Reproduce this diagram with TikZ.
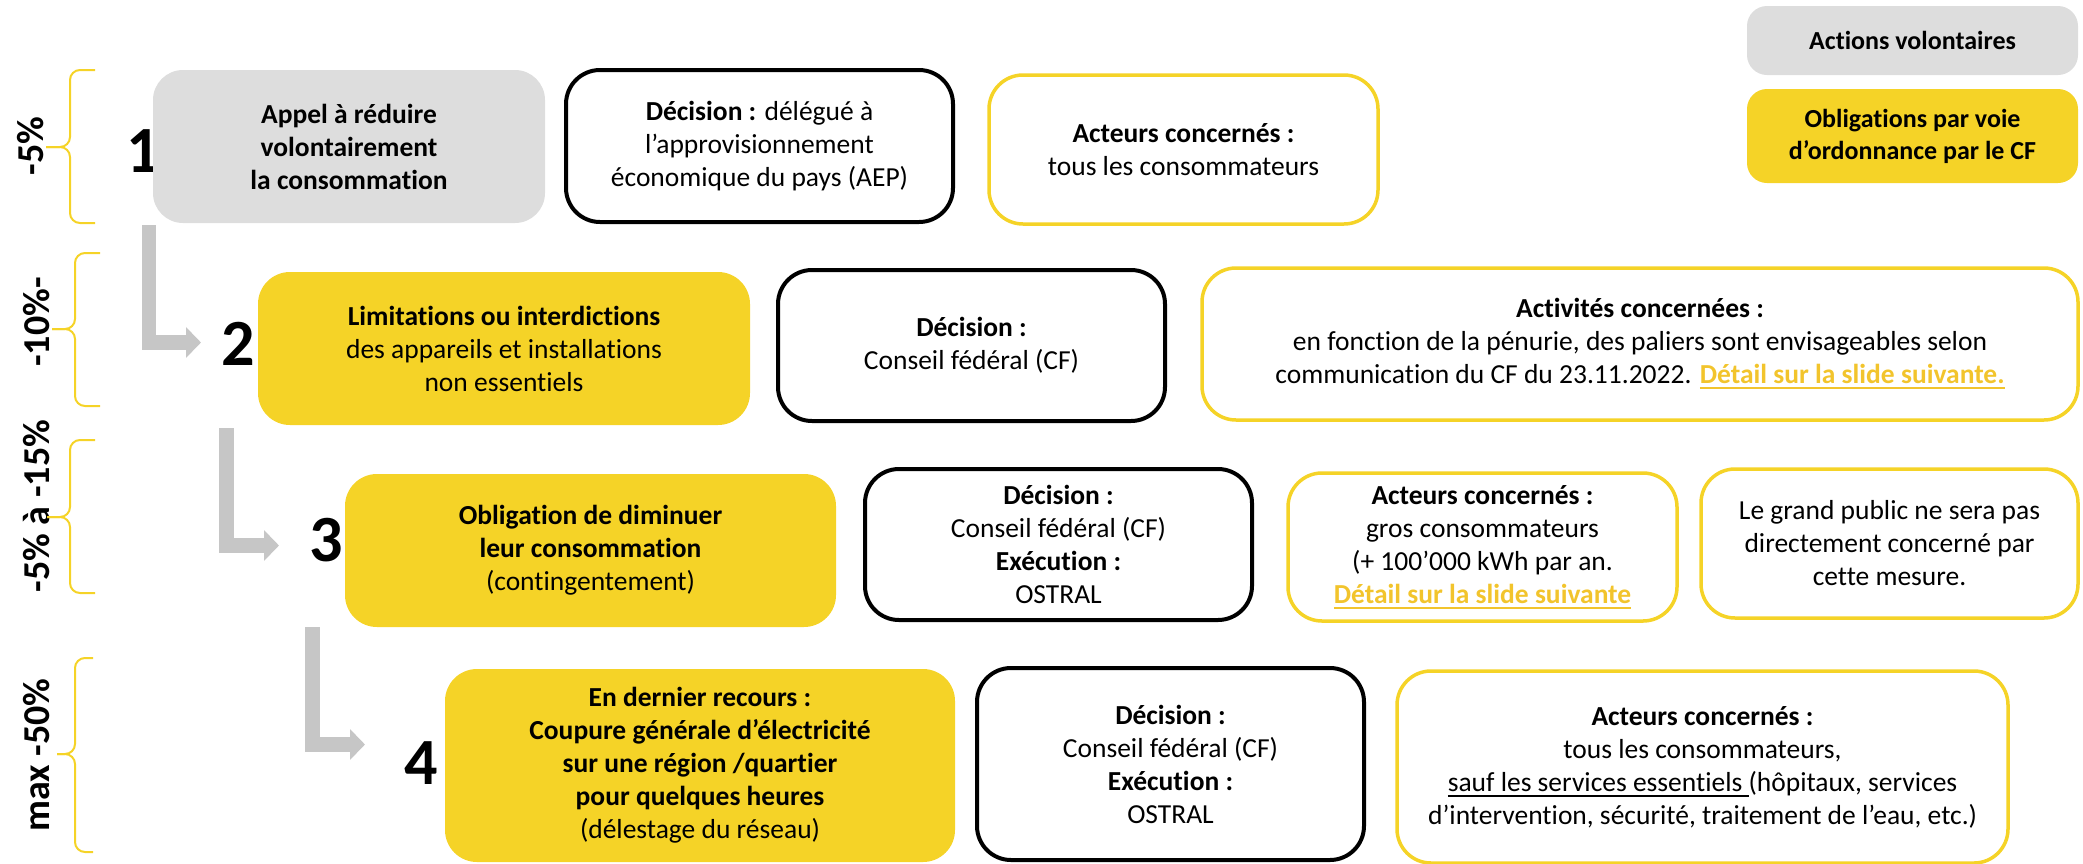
\documentclass[tikz,border=0pt]{standalone}
\usepackage{fontspec}
\setmainfont[Ligatures=NoCommon]{Carlito}
\usepackage{tikz}
\usetikzlibrary{arrows.meta,positioning}

\definecolor{stepYellow}{HTML}{F5D327}
\definecolor{stepGray}{HTML}{DDDDDD}
\definecolor{arrowGray}{HTML}{C6C6C6}
\definecolor{linkGold}{HTML}{F2C42C}
\newsavebox{\ulbox}
\newcommand{\ulin}[1]{\sbox{\ulbox}{#1}\rlap{\rule[-5.5pt]{\wd\ulbox}{2pt}}\usebox{\ulbox}}
\newcommand{\boxfont}{\fontsize{27.5}{33}\selectfont}
\newcommand{\slidelink}[1]{{\color{linkGold}\bfseries\ulin{#1}}}

\begin{document}
\begin{tikzpicture}[x=1pt, y=-1pt]
    \tikzstyle{volbox} = [fill=stepGray, rounded corners=30pt, align=center, font=\boxfont\bfseries]
    \tikzstyle{oblbox} = [fill=stepYellow, rounded corners=32pt, align=center, font=\boxfont]
    \tikzstyle{decbox} = [draw=black, line width=4pt, rounded corners=34pt, align=center, font=\boxfont]
    \tikzstyle{actbox} = [draw=stepYellow, line width=3.5pt, rounded corners=34pt, align=center, font=\boxfont]
    \tikzstyle{stepnum} = [font=\fontsize{66}{66}\selectfont\bfseries, inner sep=0pt]
    \tikzstyle{pct} = [rotate=90, font=\fontsize{38}{42}\selectfont\bfseries, inner sep=0pt]
    \tikzstyle{pctbrace} = [draw=stepYellow, line width=2pt, rounded corners=10pt]
    \tikzstyle{stepArrow} = [draw=arrowGray, line width=14.5pt, -{Triangle[width=30pt, length=15pt]}]

    \useasboundingbox (0,0) rectangle (2083,863);

    % legend
    \node[volbox, minimum width=331pt, minimum height=69pt, rounded corners=20pt,
          font=\fontsize{26}{32}\selectfont\bfseries] (legvol) at (1912.5,40.5) {Actions volontaires};
    \node[oblbox, minimum width=331pt, minimum height=94pt, rounded corners=20pt,
          font=\fontsize{26}{32}\selectfont\bfseries] (legobl) at (1912.5,136) {Obligations par voie\\d’ordonnance par le CF};

    % percentages
    \node[pct] (p1) at (31,146) {-5\%};
    \node[pct] (p2) at (37,322) {-10\%-};
    \node[pct] (p3) at (37,506) {-5\% à -15\%};
    \node[pct] (p4) at (37,755) {max -50\%};

    \draw[pctbrace] (95,70) -- (70,70) -- (70,147) -- (46,147);
    \draw[pctbrace] (95,223) -- (70,223) -- (70,147) -- (46,147);
    \draw[pctbrace] (100,253) -- (75,253) -- (75,329) -- (52,329);
    \draw[pctbrace] (100,406) -- (75,406) -- (75,329) -- (52,329);
    \draw[pctbrace] (95,440) -- (70,440) -- (70,517) -- (47,517);
    \draw[pctbrace] (95,593) -- (70,593) -- (70,517) -- (47,517);
    \draw[pctbrace] (93,658) -- (75,658) -- (75,754) -- (57,754);
    \draw[pctbrace] (93,852) -- (75,852) -- (75,754) -- (57,754);

    % steps
    \node[stepnum] (n1) at (143,151) {1};
    \node[stepnum] (n2) at (238,344) {2};
    \node[stepnum] (n3) at (326,540) {3};
    \node[stepnum] (n4) at (421,763) {4};

    % step 1
    \node[volbox, minimum width=392pt, minimum height=153pt] (box1) at (349,146.5)
        {Appel à réduire\\volontairement\\la consommation};
    \node[decbox, minimum width=387pt, minimum height=152pt] (dec1) at (759.5,146)
        {{\bfseries Décision :} délégué à\\l’approvisionnement\\économique du pays (AEP)};
    \node[actbox, minimum width=389pt, minimum height=149pt] (act1) at (1183.5,149.5)
        {{\bfseries Acteurs concernés :}\\tous les consommateurs};

    % step 2
    \node[oblbox, minimum width=492pt, minimum height=153pt] (box2) at (504,348.5)
        {{\bfseries Limitations ou interdictions}\\des appareils et installations\\non essentiels};
    \node[decbox, minimum width=387pt, minimum height=151pt] (dec2) at (971.5,345.5)
        {{\bfseries Décision :}\\Conseil fédéral (CF)};
    \node[actbox, minimum width=876pt, minimum height=152pt] (act2) at (1640,344)
        {{\bfseries Activités concernées :}\\en fonction de la pénurie, des paliers sont envisageables selon\\communication du CF du 23.11.2022. \slidelink{Détail sur la slide suivante.}};

    % step 3
    \node[oblbox, minimum width=491pt, minimum height=153pt] (box3) at (590.5,550.5)
        {{\bfseries Obligation de diminuer}\\{\bfseries leur consommation}\\(contingentement)};
    \node[decbox, minimum width=387pt, minimum height=151pt] (dec3) at (1058.5,544.5)
        {{\bfseries Décision :}\\Conseil fédéral (CF)\\{\bfseries Exécution :}\\OSTRAL};
    \node[actbox, minimum width=389pt, minimum height=148pt] (act3) at (1482.5,547)
        {{\bfseries Acteurs concernés :}\\gros consommateurs\\(+ 100’000 kWh par an.\\\slidelink{Détail sur la slide suivante}};
    \node[actbox, minimum width=377pt, minimum height=149pt] (pub3) at (1889.5,543.5)
        {Le grand public ne sera pas\\directement concerné par\\cette mesure.};

    % step 4
    \node[oblbox, minimum width=510pt, minimum height=193pt] (box4) at (700,765.5)
        {{\bfseries En dernier recours :}\\{\bfseries Coupure générale d’électricité}\\{\bfseries sur une région /quartier}\\{\bfseries pour quelques heures}\\(délestage du réseau)};
    \node[decbox, minimum width=387pt, minimum height=192pt] (dec4) at (1170.5,764)
        {{\bfseries Décision :}\\Conseil fédéral (CF)\\{\bfseries Exécution :}\\OSTRAL};
    \node[actbox, minimum width=611pt, minimum height=192pt] (act4) at (1702.5,767)
        {{\bfseries Acteurs concernés :}\\tous les consommateurs,\\\ulin{sauf les services essentiels }(hôpitaux, services\\d’intervention, sécurité, traitement de l’eau, etc.)};

    % 1 -> 2 -> 3 -> 4
    \coordinate (a1s) at (149,225);   \coordinate (a1e) at (201,342.5);
    \coordinate (a2s) at (226.5,428); \coordinate (a2e) at (279,545.5);
    \coordinate (a3s) at (312.5,627); \coordinate (a3e) at (365,744.5);
    \draw[stepArrow] (a1s) |- (a1e);
    \draw[stepArrow] (a2s) |- (a2e);
    \draw[stepArrow] (a3s) |- (a3e);
\end{tikzpicture}
\end{document}
